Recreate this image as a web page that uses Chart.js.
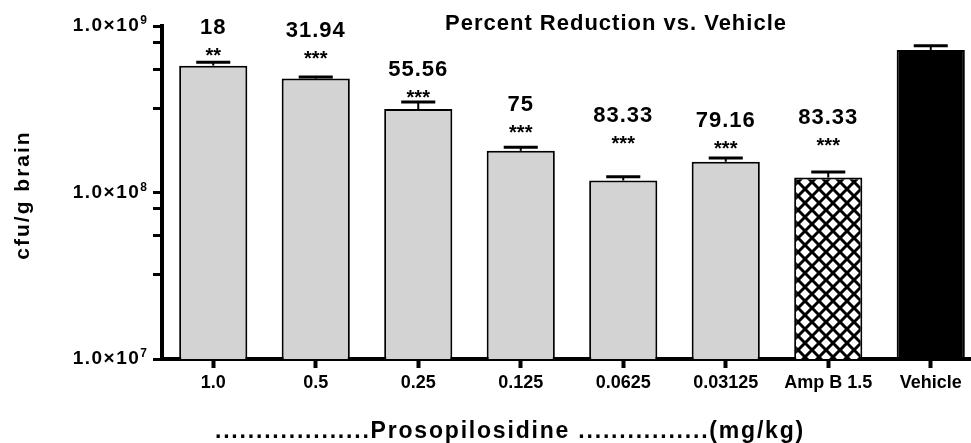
<!DOCTYPE html>
<html>
<head>
<meta charset="utf-8">
<script src="https://cdn.jsdelivr.net/npm/chart.js@4.4.0/dist/chart.umd.min.js"></script>
<style>
  html, body { margin: 0; padding: 0; background: #fff; overflow: hidden; }
</style>
</head>
<body>
<canvas id="cfuChart" width="990" height="443"></canvas>
<script>
// values
const doses = ["1.0", "0.5", "0.25", "0.125", "0.0625", "0.03125", "Amp B 1.5", "Vehicle"];
const cfuMean = [5.78e8, 4.83e8, 3.17e8, 1.78e8, 1.18e8, 1.53e8, 1.23e8, 7.18e8];
const cfuUpper = [6.06e8, 4.94e8, 3.50e8, 1.87e8, 1.245e8, 1.61e8, 1.33e8, 7.62e8];
const percentReduction = ["18", "31.94", "55.56", "75", "83.33", "79.16", "83.33", ""];
const significance = ["**", "***", "***", "***", "***", "***", "***", ""];
const yMajorTicks = [1e7, 1e8, 1e9];
const yMinorTicks = [3.2e7, 5.5e7, 8e7, 3.2e8, 5.5e8, 8e8];

const FONT = "'Liberation Sans', Arial, Helvetica, sans-serif";

// cross hatch for Amp B
function hatchPattern() {
  const s = 14;
  const c = document.createElement("canvas");
  c.width = s; c.height = s;
  const g = c.getContext("2d");
  g.fillStyle = "#fff";
  g.fillRect(0, 0, s, s);
  g.strokeStyle = "#000";
  g.lineWidth = 3;
  g.lineCap = "square";
  for (const o of [-s, 0, s]) {
    g.beginPath(); g.moveTo(o, 0); g.lineTo(o + s, s); g.stroke();
    g.beginPath(); g.moveTo(o + s, 0); g.lineTo(o, s); g.stroke();
  }
  return g.createPattern(c, "repeat");
}

const ctx = document.getElementById("cfuChart").getContext("2d");
const fills = doses.map((d, i) => i === 6 ? hatchPattern() : (i === 7 ? "#000" : "#d3d3d3"));

// error bars + percent / star labels + free text
const annotations = {
  id: "annotations",
  afterDatasetsDraw(chart, args, opts) {
    const c = chart.ctx;
    const y = chart.scales.y;
    const meta = chart.getDatasetMeta(0);
    c.save();
    c.fillStyle = "#000";
    c.strokeStyle = "#000";
    c.textAlign = "center";
    meta.data.forEach((bar, i) => {
      const top = y.getPixelForValue(cfuUpper[i]);
      const half = bar.width / 4;
      c.lineWidth = 2;
      c.beginPath(); c.moveTo(bar.x, bar.y); c.lineTo(bar.x, top); c.stroke();
      c.lineWidth = 3;
      c.beginPath(); c.moveTo(bar.x - half, top); c.lineTo(bar.x + half, top); c.stroke();

      if (significance[i]) {
        const starY = top - opts.starLift[i];
        c.font = "bold 20px " + FONT;
        c.textBaseline = "alphabetic";
        c.fillText(significance[i], bar.x, starY + 11);
        c.font = "bold 22px " + FONT;
        c.textBaseline = "middle";
        c.letterSpacing = "1px";
        c.fillText(percentReduction[i], bar.x, starY - 23);
        c.letterSpacing = "0px";
      }
    });
    c.restore();
  },
  afterDraw(chart) {
    const c = chart.ctx;
    const y = chart.scales.y;
    c.save();
    c.fillStyle = "#000";

    // title
    c.font = "bold 22px " + FONT;
    c.letterSpacing = "1px";
    c.textAlign = "center";
    c.textBaseline = "middle";
    c.fillText("Percent Reduction vs. Vehicle", 616, 24);

    // y tick labels with superscript
    yMajorTicks.forEach(v => {
      const py = y.getPixelForValue(v);
      const exp = String(Math.round(Math.log10(v)));
      c.font = "bold 12px " + FONT;
      c.letterSpacing = "0px";
      const ew = c.measureText(exp).width;
      c.textAlign = "left";
      c.textBaseline = "middle";
      c.fillText(exp, 147 - ew, py - 5);
      c.font = "bold 19px " + FONT;
      c.letterSpacing = "1.5px";
      c.textAlign = "right";
      c.fillText("1.0\u00d710", 147 - ew, py);
    });

    // y title
    c.save();
    c.translate(23, 195);
    c.rotate(-Math.PI / 2);
    c.font = "bold 21px " + FONT;
    c.letterSpacing = "2px";
    c.textAlign = "center";
    c.textBaseline = "middle";
    c.fillText("cfu/g brain", 0, 0);
    c.restore();

    // x title
    c.font = "bold 23px " + FONT;
    c.letterSpacing = "1.8px";
    c.textAlign = "center";
    c.textBaseline = "middle";
    c.fillText("...................Prosopilosidine ................(mg/kg)", 510, 432);
    c.restore();
  }
};

new Chart(ctx, {
  type: "bar",
  data: {
    labels: doses,
    datasets: [{
      data: cfuMean,
      backgroundColor: fills,
      borderColor: "#000",
      borderWidth: 2,
      borderSkipped: "bottom",
      barPercentage: 0.665,
      categoryPercentage: 1
    }]
  },
  options: {
    responsive: false,
    animation: false,
    layout: { padding: { top: 26, right: 8, left: 0, bottom: 0 } },
    plugins: {
      legend: { display: false },
      tooltip: { enabled: false },
      annotations: { starLift: [11, 23, 9, 19, 38, 14, 31, 0] }
    },
    scales: {
      x: {
        offset: true,
        grid: { display: true, offset: false, drawOnChartArea: false, tickLength: 9, tickWidth: 4, tickColor: "#000" },
        border: { display: true, width: 4, color: "#000" },
        ticks: { color: "#000", font: { family: FONT, size: 18, weight: "bold" }, padding: 4, maxRotation: 0, autoSkip: false },
        afterFit: s => { s.height = 84; }
      },
      y: {
        type: "logarithmic",
        min: 1e7,
        max: 1e9,
        grid: { display: true, drawOnChartArea: false, tickLength: 9, tickWidth: 3, tickColor: "#000" },
        border: { display: true, width: 4, color: "#000" },
        ticks: { callback: () => "", padding: 0 },
        afterBuildTicks: s => {
          s.ticks = yMajorTicks.concat(yMinorTicks).sort((a, b) => a - b).map(v => ({ value: v }));
        },
        afterFit: s => { s.height = s.height; s.width = 162; }
      }
    }
  },
  plugins: [annotations]
});
</script>
</body>
</html>
